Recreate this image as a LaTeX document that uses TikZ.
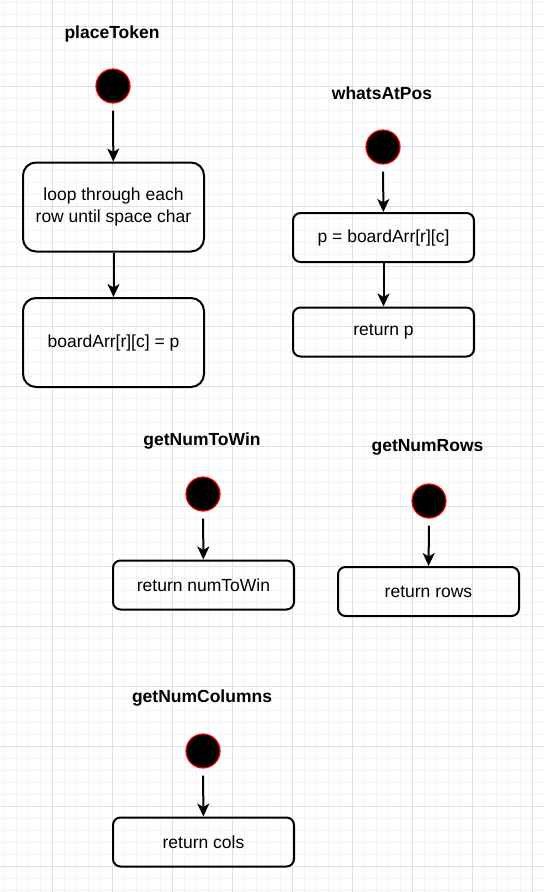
\documentclass[tikz,border=0pt]{standalone}
\usepackage{fontspec}
\setmainfont{Liberation Sans}
\usetikzlibrary{arrows.meta}
\definecolor{gridmajor}{HTML}{E0E0E0}
\definecolor{gridminor}{HTML}{F4F4F4}
\definecolor{startred}{HTML}{FF0000}
\tikzset{
  every node/.style={font=\fontsize{17.5}{21}\selectfont},
  title/.style={font=\fontsize{17.5}{21}\selectfont\bfseries, anchor=center},
  start/.style={circle, fill=black, draw=startred, line width=1.2pt, minimum size=34pt, inner sep=0pt},
  bigbox/.style={draw=black, line width=2pt, rounded corners=13pt, minimum width=181pt, minimum height=89pt, align=center, inner sep=0pt},
  smallbox/.style={draw=black, line width=2pt, rounded corners=7.5pt, minimum width=181pt, minimum height=49pt, align=center, inner sep=0pt},
  arr/.style={line width=2pt, -{Stealth[length=13pt, width=12pt, inset=3.5pt]}, shorten <=7pt}
}
\begin{document}
\begin{tikzpicture}[x=1pt, y=-1pt]
\useasboundingbox (0,0) rectangle (544,892);
\fill[white] (0,0) rectangle (544,892);
% minor grid
\foreach \x in {4.5,16.5,...,544} \draw[gridminor, line width=1pt] (\x,0) -- (\x,892);
\foreach \y in {2,14,...,892} \draw[gridminor, line width=1pt] (0,\y) -- (544,\y);
% major grid
\foreach \x in {-7.5,52.5,...,544} \draw[gridmajor, line width=1pt] (\x,0) -- (\x,892);
\foreach \y in {26,86,...,892} \draw[gridmajor, line width=1pt] (0,\y) -- (544,\y);

% placeToken
\node[title] (t1) at (112,34) {placeToken};
\node[start] (s1) at (113,86) {};
\node[bigbox] (b1) at (113.5,207) {loop through each\\[1pt]row until space char};
\node[bigbox] (b2) at (113.5,342.5) {boardArr[r][c] = p};
\draw[arr] (s1) -- (b1);
\draw[arr, shorten <=0pt] (b1) -- (b2);

% whatsAtPos
\node[title] (t2) at (382,93) {whatsAtPos};
\node[start] (s2) at (383,147) {};
\node[smallbox] (b3) at (383.5,237.5) {p = boardArr[r][c]};
\node[smallbox] (b4) at (383.5,332) {return p};
\draw[arr] (s2) -- (b3);
\draw[arr, shorten <=0pt] (b3) -- (b4);

% getNumToWin
\node[title] (t3) at (202,441) {getNumToWin};
\node[start] (s3) at (203,494) {};
\node[smallbox] (b5) at (203.5,585) {return numToWin};
\draw[arr] (s3) -- (b5);

% getNumRows
\node[title] (t4) at (427.5,447) {getNumRows};
\node[start] (s4) at (429,501) {};
\node[smallbox] (b6) at (428.5,591.5) {return rows};
\draw[arr] (s4) -- (b6);

% getNumColumns
\node[title] (t5) at (202,698) {getNumColumns};
\node[start] (s5) at (203,751) {};
\node[smallbox] (b7) at (203.5,842) {return cols};
\draw[arr] (s5) -- (b7);
\end{tikzpicture}
\end{document}
